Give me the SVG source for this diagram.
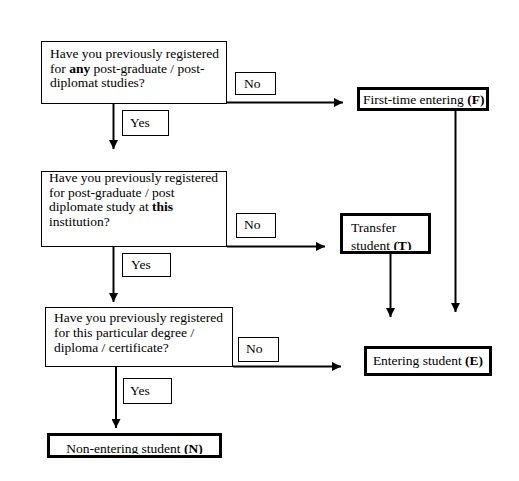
<svg xmlns="http://www.w3.org/2000/svg" width="519" height="481" viewBox="0 0 519 481" font-family="Liberation Serif, Times New Roman, serif">
<defs>
<style>
text{font-family:"Liberation Serif","Times New Roman",serif;font-size:13.5px;fill:#000}
.b{font-weight:bold}
.m{text-anchor:middle}
.q{fill:#fff;stroke:#000;stroke-width:1}
.t{fill:#fff;stroke:#000;stroke-width:3}
.c{stroke:#000;stroke-width:2;fill:none}
</style>
<marker id="ah" viewBox="0 0 10 10" refX="10" refY="5" markerWidth="4.5" markerHeight="4.5" orient="auto" markerUnits="strokeWidth">
<path d="M0,0 L10,5 L0,10 z" fill="#000"/>
</marker>
<clipPath id="clipT"><rect x="341" y="215" width="88" height="35"/></clipPath>
<clipPath id="clipN"><rect x="48" y="434" width="172" height="20"/></clipPath>
</defs>
<rect width="519" height="481" fill="#fff"/>

<g id="connectors">
<path class="c" d="M227,102.5 H343" marker-end="url(#ah)"/>
<path class="c" d="M113.5,103 V149" marker-end="url(#ah)"/>
<path class="c" d="M227,246.5 H325" marker-end="url(#ah)"/>
<path class="c" d="M113.5,247 V302" marker-end="url(#ah)"/>
<path class="c" d="M233,366.5 H341" marker-end="url(#ah)"/>
<path class="c" d="M116,367 V428" marker-end="url(#ah)"/>
<path class="c" d="M455.5,111 V312" marker-end="url(#ah)"/>
<path class="c" d="M390.5,254 V317" marker-end="url(#ah)"/>
</g>

<g id="q1">
<rect class="q" x="41.5" y="41.5" width="185" height="62"/>
<text x="50" y="58">Have you previously registered</text>
<text x="50" y="73">for <tspan class="b">any</tspan> post-graduate / post-</text>
<text x="50" y="87">diplomat studies?</text>
</g>
<g id="no1">
<rect class="q" x="235.5" y="72.5" width="40" height="22"/>
<text x="244" y="88">No</text>
</g>
<g id="yes1">
<rect class="q" x="122.5" y="110.5" width="46" height="25"/>
<text x="130" y="127">Yes</text>
</g>
<g id="F">
<rect class="t" x="358.5" y="88.5" width="129" height="21"/>
<text x="363" y="103.5">First-time entering <tspan class="b">(F)</tspan></text>
</g>

<g id="q2">
<rect class="q" x="41.5" y="171.5" width="185" height="75"/>
<text x="49" y="182">Have you previously registered</text>
<text x="49" y="196.5">for post-graduate / post</text>
<text x="49" y="211">diplomate study at <tspan class="b">this</tspan></text>
<text x="49" y="225.5">institution?</text>
</g>
<g id="no2">
<rect class="q" x="236.5" y="213.5" width="39" height="24"/>
<text x="244" y="229">No</text>
</g>
<g id="yes2">
<rect class="q" x="122.5" y="253.5" width="48" height="23"/>
<text x="131" y="269">Yes</text>
</g>
<g id="T">
<rect class="t" x="341.5" y="214.5" width="88" height="38"/>
<g clip-path="url(#clipT)">
<text x="351" y="232">Transfer</text>
<text x="351" y="250">student <tspan class="b">(T)</tspan></text>
</g>
</g>

<g id="q3">
<rect class="q" x="45.5" y="307.5" width="187" height="59"/>
<text x="54" y="322">Have you previously registered</text>
<text x="54" y="337">for this particular degree /</text>
<text x="54" y="352">diploma / certificate?</text>
</g>
<g id="no3">
<rect class="q" x="238.5" y="337.5" width="40" height="24"/>
<text x="246" y="353">No</text>
</g>
<g id="yes3">
<rect class="q" x="123.5" y="378.5" width="48" height="25"/>
<text x="130" y="395">Yes</text>
</g>
<g id="E">
<rect class="t" x="365.5" y="347.5" width="125" height="27"/>
<text class="m" x="428" y="365">Entering student <tspan class="b">(E)</tspan></text>
</g>
<g id="N">
<rect class="t" x="48.5" y="434.5" width="172" height="22"/>
<g clip-path="url(#clipN)">
<text class="m" x="134.5" y="452.5">Non-entering student <tspan class="b">(N)</tspan></text>
</g>
</g>
</svg>
